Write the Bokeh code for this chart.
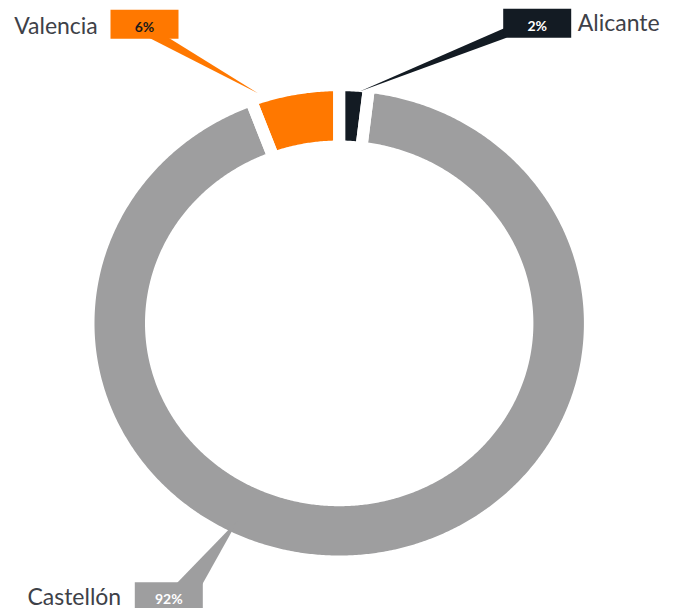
import numpy as np
from bokeh.plotting import figure
from bokeh.models import Range1d
from bokeh.embed import file_html
from bokeh.resources import INLINE
from bokeh.core.properties import value

# ---- data ----
categories = ["Alicante", "Castellón", "Valencia"]
shares = [2, 92, 6]
share_labels = ["2%", "92%", "6%"]
slice_colors = ["#131B23", "#9E9E9F", "#FF7800"]
badge_text_colors = ["#FFFFFF", "#FFFFFF", "#1A1A1A"]

# ---- layout (screen pixel coordinates) ----
W, H = 675, 608
CX, CY = 338.7, 322.85
GAP = 12
R_OUT = (244.7 + GAP / 2, 232.2 + GAP / 2)
R_IN = (194.2 - GAP / 2, 182.85 - GAP / 2)

badge_left = [502.7, 134.3, 110.0]
badge_top = [8.3, 581.7, 9.3]
BADGE_W, BADGE_H = 68, 29
pointer_xs = [[506, 506, 359], [175, 201.7, 238], [146, 166, 257.3]]
pointer_ys = [[26.7, 37.3, 91], [584, 584, 519], [36, 36, 92.7]]
label_x = [577.3, 120.7, 97.3]
label_y = [21.5, 595.0, 24.0]
label_align = ["left", "right", "right"]

p = figure(width=W, height=H, output_backend="svg", toolbar_location=None,
           x_range=Range1d(0, W), y_range=Range1d(H, 0),
           x_axis_location=None, y_axis_location=None, min_border=0)
p.grid.visible = False
p.outline_line_color = None
p.background_fill_color = "white"
p.border_fill_color = "white"


def ell_r(phi, rx, ry):
    return 1.0 / np.sqrt((np.cos(phi) / rx) ** 2 + (np.sin(phi) / ry) ** 2)


xs, ys = [], []
cum = 0.0
total = float(sum(shares))
for s in shares:
    a0 = np.deg2rad(90 - cum / total * 360)
    a1 = np.deg2rad(90 - (cum + s) / total * 360)
    cum += s
    phi = np.linspace(a0, a1, max(8, int(abs(a1 - a0) * 120)))
    ro = ell_r(phi, *R_OUT)
    ri = ell_r(phi[::-1], *R_IN)
    x = np.concatenate([CX + ro * np.cos(phi), CX + ri * np.cos(phi[::-1])])
    y = np.concatenate([CY - ro * np.sin(phi), CY - ri * np.sin(phi[::-1])])
    xs.append(list(x))
    ys.append(list(y))

p.patches(xs, ys, fill_color=slice_colors, line_color=None)
p.patches(xs, ys, fill_color=None, line_color="white", line_width=GAP, line_join="miter")

# callout pointers and badges
p.patches(pointer_xs, pointer_ys, fill_color=slice_colors, line_color=None)
bx = [l + BADGE_W / 2 for l in badge_left]
by = [t + BADGE_H / 2 for t in badge_top]
p.rect(bx, by, width=BADGE_W, height=BADGE_H, fill_color=slice_colors, line_color=None)
p.text(bx, [t + 16.5 for t in badge_top], text=share_labels, text_color=badge_text_colors,
       text_font=value("Lato"), text_font_size="14px", text_font_style="bold",
       text_align="center", text_baseline="middle")

for i, name in enumerate(categories):
    p.text([label_x[i]], [label_y[i]], text=[name], text_color="#3E4148",
           text_font=value("Lato"), text_font_size="23px",
           text_align=label_align[i], text_baseline="middle")

open("out.html", "w").write(file_html(p, INLINE))
